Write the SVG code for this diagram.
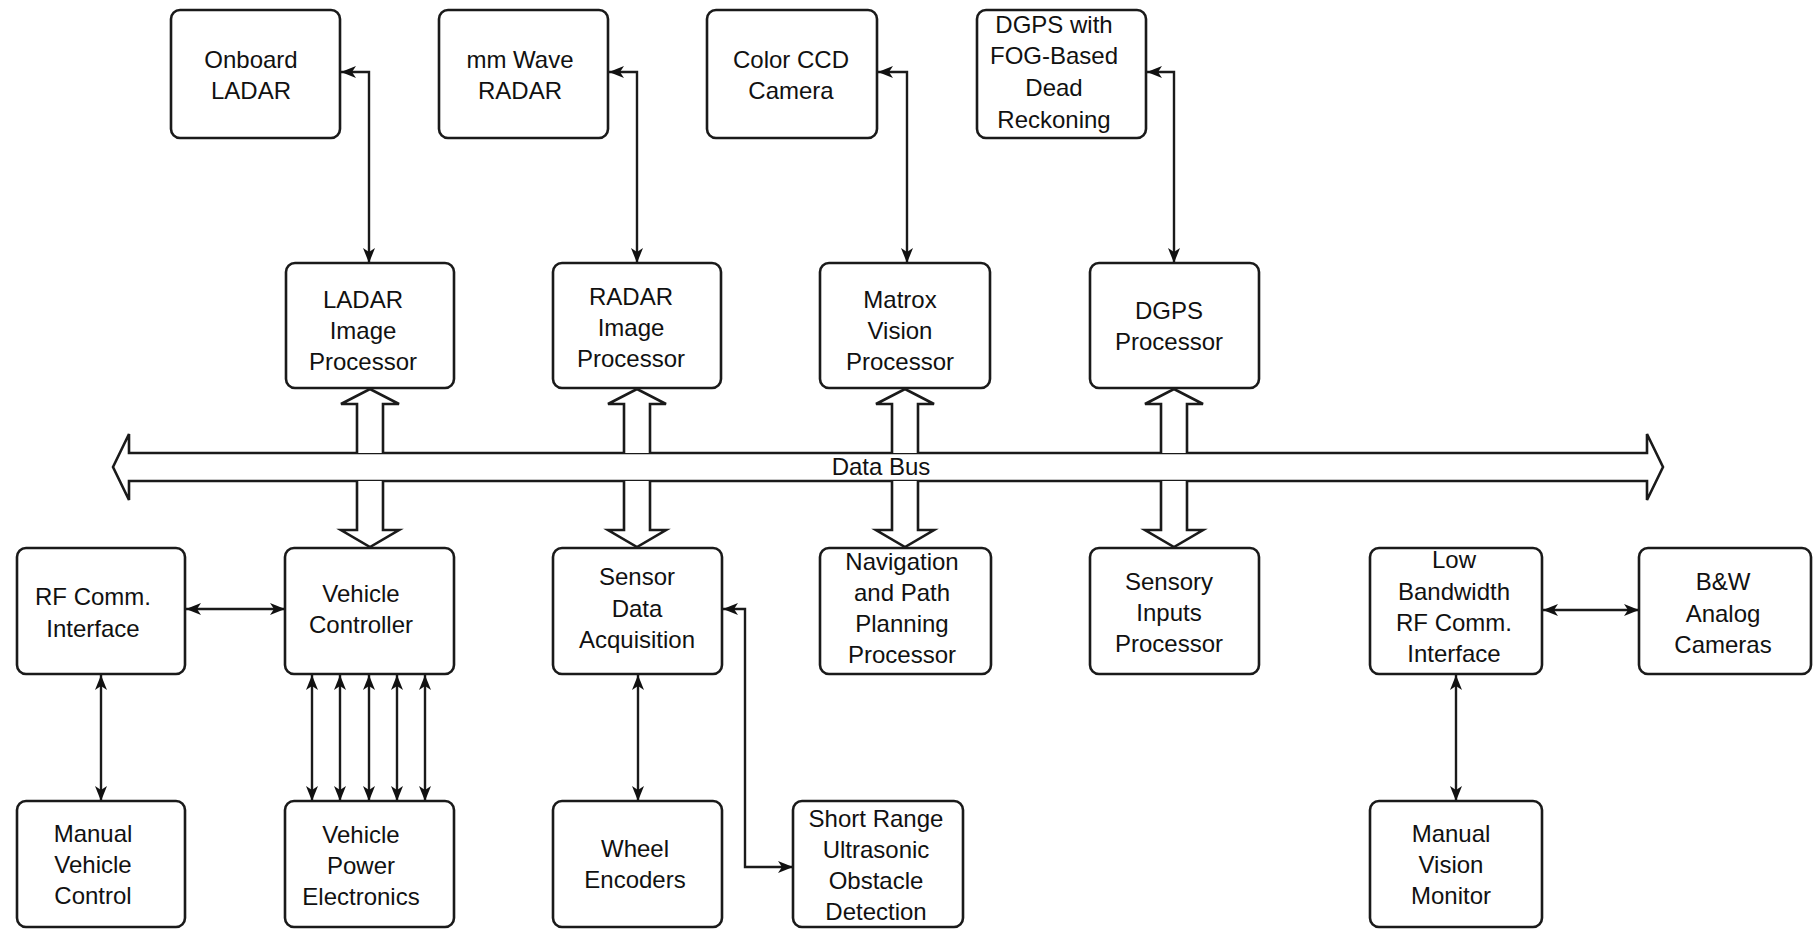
<svg xmlns="http://www.w3.org/2000/svg" width="1814" height="931" viewBox="0 0 1814 931">
<style>
.box{fill:#fff;stroke:#1a1a1a;stroke-width:2.6}
.t{font-family:"Liberation Sans",Arial,sans-serif;font-size:24px;fill:#111;text-anchor:middle}
.ln{fill:none;stroke:#1a1a1a;stroke-width:2.4;marker-start:url(#ah);marker-end:url(#ah)}
.blk{fill:#fff;stroke:#1a1a1a;stroke-width:2.6;stroke-linejoin:miter}
</style>
<defs>
<marker id="ah" viewBox="-16 -7 17 14" refX="0" refY="0" markerWidth="17" markerHeight="14" markerUnits="userSpaceOnUse" orient="auto-start-reverse">
<path d="M0,0 L-15,-6 L-11,0 L-15,6 Z" fill="#111"/>
</marker>
</defs>
<rect width="1814" height="931" fill="#fff"/>

<g id="connectors">
<!-- data bus -->
<path class="blk" d="M113,467 L129,434 L129,453 L1647,453 L1647,434 L1663,467 L1647,500 L1647,481 L129,481 L129,500 Z"/>
<text class="t" x="881" y="475">Data Bus</text>
<!-- block arrows up (box to bus) -->
<path class="blk" d="M357,453 L357,404 L341,404 L370,389 L399,404 L383,404 L383,453"/>
<path class="blk" d="M624,453 L624,404 L608,404 L637,389 L666,404 L650,404 L650,453"/>
<path class="blk" d="M892,453 L892,404 L876,404 L905,389 L934,404 L918,404 L918,453"/>
<path class="blk" d="M1161,453 L1161,404 L1145,404 L1174,389 L1203,404 L1187,404 L1187,453"/>
<!-- block arrows down (bus to box) -->
<path class="blk" d="M357,481 L357,530 L341,530 L370,547 L399,530 L383,530 L383,481"/>
<path class="blk" d="M624,481 L624,530 L608,530 L637,547 L666,530 L650,530 L650,481"/>
<path class="blk" d="M892,481 L892,530 L876,530 L905,547 L934,530 L918,530 L918,481"/>
<path class="blk" d="M1161,481 L1161,530 L1145,530 L1174,547 L1203,530 L1187,530 L1187,481"/>
<!-- sensor to processor links -->
<path class="ln" d="M341,72 L369,72 L369,263"/>
<path class="ln" d="M609,72 L637,72 L637,263"/>
<path class="ln" d="M878,72 L907,72 L907,263"/>
<path class="ln" d="M1147,72 L1174,72 L1174,263"/>
<!-- lower links -->
<path class="ln" d="M186,609 L285,609"/>
<path class="ln" d="M101,675 L101,801"/>
<path class="ln" d="M312,675 L312,801"/>
<path class="ln" d="M340,675 L340,801"/>
<path class="ln" d="M369,675 L369,801"/>
<path class="ln" d="M397,675 L397,801"/>
<path class="ln" d="M425,675 L425,801"/>
<path class="ln" d="M638,675 L638,801"/>
<path class="ln" d="M723,609 L745,609 L745,867 L793,867"/>
<path class="ln" d="M1543,610 L1639,610"/>
<path class="ln" d="M1456,675 L1456,801"/>
</g>

<g id="onboard-ladar"><rect class="box" x="171" y="10" width="169" height="128" rx="9"/>
<text class="t" x="251" y="68">Onboard</text><text class="t" x="251" y="99">LADAR</text></g>
<g id="mm-wave-radar"><rect class="box" x="439" y="10" width="169" height="128" rx="9"/>
<text class="t" x="520" y="68">mm Wave</text><text class="t" x="520" y="99">RADAR</text></g>
<g id="color-ccd-camera"><rect class="box" x="707" y="10" width="170" height="128" rx="9"/>
<text class="t" x="791" y="68">Color CCD</text><text class="t" x="791" y="99">Camera</text></g>
<g id="dgps-fog"><rect class="box" x="977" y="10" width="169" height="128" rx="9"/>
<text class="t" x="1054" y="33">DGPS with</text><text class="t" x="1054" y="64">FOG-Based</text><text class="t" x="1054" y="96">Dead</text><text class="t" x="1054" y="128">Reckoning</text></g>

<g id="ladar-image-processor"><rect class="box" x="286" y="263" width="168" height="125" rx="9"/>
<text class="t" x="363" y="308">LADAR</text><text class="t" x="363" y="339">Image</text><text class="t" x="363" y="370">Processor</text></g>
<g id="radar-image-processor"><rect class="box" x="553" y="263" width="168" height="125" rx="9"/>
<text class="t" x="631" y="305">RADAR</text><text class="t" x="631" y="336">Image</text><text class="t" x="631" y="367">Processor</text></g>
<g id="matrox-vision-processor"><rect class="box" x="820" y="263" width="170" height="125" rx="9"/>
<text class="t" x="900" y="308">Matrox</text><text class="t" x="900" y="339">Vision</text><text class="t" x="900" y="370">Processor</text></g>
<g id="dgps-processor"><rect class="box" x="1090" y="263" width="169" height="125" rx="9"/>
<text class="t" x="1169" y="319">DGPS</text><text class="t" x="1169" y="350">Processor</text></g>

<g id="rf-comm-interface"><rect class="box" x="17" y="548" width="168" height="126" rx="9"/>
<text class="t" x="93" y="605">RF Comm.</text><text class="t" x="93" y="637">Interface</text></g>
<g id="vehicle-controller"><rect class="box" x="285" y="548" width="169" height="126" rx="9"/>
<text class="t" x="361" y="602">Vehicle</text><text class="t" x="361" y="633">Controller</text></g>
<g id="sensor-data-acquisition"><rect class="box" x="553" y="548" width="169" height="126" rx="9"/>
<text class="t" x="637" y="585">Sensor</text><text class="t" x="637" y="617">Data</text><text class="t" x="637" y="648">Acquisition</text></g>
<g id="navigation-processor"><rect class="box" x="820" y="548" width="171" height="126" rx="9"/>
<text class="t" x="902" y="570">Navigation</text><text class="t" x="902" y="601">and Path</text><text class="t" x="902" y="632">Planning</text><text class="t" x="902" y="663">Processor</text></g>
<g id="sensory-inputs-processor"><rect class="box" x="1090" y="548" width="169" height="126" rx="9"/>
<text class="t" x="1169" y="590">Sensory</text><text class="t" x="1169" y="621">Inputs</text><text class="t" x="1169" y="652">Processor</text></g>
<g id="low-bandwidth-rf"><rect class="box" x="1370" y="548" width="172" height="126" rx="9"/>
<text class="t" x="1454" y="568">Low</text><text class="t" x="1454" y="600">Bandwidth</text><text class="t" x="1454" y="631">RF Comm.</text><text class="t" x="1454" y="662">Interface</text></g>
<g id="bw-analog-cameras"><rect class="box" x="1639" y="548" width="172" height="126" rx="9"/>
<text class="t" x="1723" y="590">B&amp;W</text><text class="t" x="1723" y="622">Analog</text><text class="t" x="1723" y="653">Cameras</text></g>

<g id="manual-vehicle-control"><rect class="box" x="17" y="801" width="168" height="126" rx="9"/>
<text class="t" x="93" y="842">Manual</text><text class="t" x="93" y="873">Vehicle</text><text class="t" x="93" y="904">Control</text></g>
<g id="vehicle-power-electronics"><rect class="box" x="285" y="801" width="169" height="126" rx="9"/>
<text class="t" x="361" y="843">Vehicle</text><text class="t" x="361" y="874">Power</text><text class="t" x="361" y="905">Electronics</text></g>
<g id="wheel-encoders"><rect class="box" x="553" y="801" width="169" height="126" rx="9"/>
<text class="t" x="635" y="857">Wheel</text><text class="t" x="635" y="888">Encoders</text></g>
<g id="short-range-ultrasonic"><rect class="box" x="793" y="801" width="170" height="126" rx="9"/>
<text class="t" x="876" y="827">Short Range</text><text class="t" x="876" y="858">Ultrasonic</text><text class="t" x="876" y="889">Obstacle</text><text class="t" x="876" y="920">Detection</text></g>
<g id="manual-vision-monitor"><rect class="box" x="1370" y="801" width="172" height="126" rx="9"/>
<text class="t" x="1451" y="842">Manual</text><text class="t" x="1451" y="873">Vision</text><text class="t" x="1451" y="904">Monitor</text></g>
</svg>
